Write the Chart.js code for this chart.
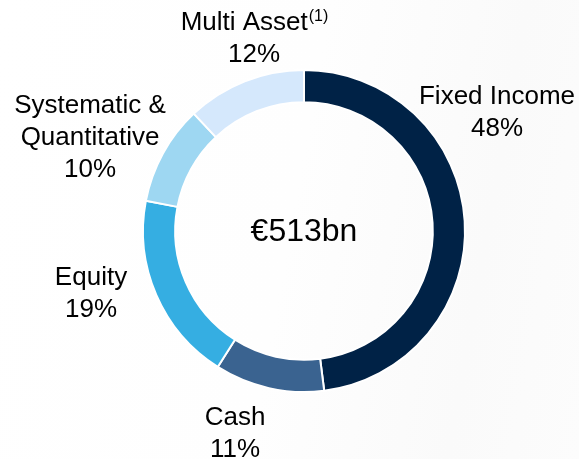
<!DOCTYPE html>
<html lang="en">
<head>
    <meta charset="UTF-8">
    <title>AuM by asset class</title>
    <script src="https://cdn.jsdelivr.net/npm/chart.js"></script>
    <style>
        html, body {
            margin: 0;
            padding: 0;
            background: #fcfcfc;
        }
        #wrap {
            width: 579px;
            height: 459px;
            position: relative;
            background: linear-gradient(100deg, #ffffff 0%, #fefefe 50%, #fafafa 80%, #fcfcfc 100%);
        }
    </style>
</head>
<body>
    <div id="wrap">
        <canvas id="aumChart" width="579" height="459"></canvas>
    </div>

    <script>
        // --- data ---
        const categories = ['Fixed Income', 'Cash', 'Equity', 'Systematic & Quantitative', 'Multi Asset'];
        const shares = [48, 11, 19, 10, 12];          // % of AuM
        const labelLines = [['Fixed Income'], ['Cash'], ['Equity'], ['Systematic &', 'Quantitative'], ['Multi Asset']];
        const footnotes = ['', '', '', '', '(1)'];
        const totalLabel = '€513bn';

        const sliceColors = ['#002246', '#3a6390', '#35aee2', '#9ed7f2', '#d5e8fc'];

        // label placement relative to the doughnut centre (x offset of text centre, y of first baseline)
        const labelSpots = [
            { dx: 193, dy: -127 },
            { dx: -69, dy: 194 },
            { dx: -213, dy: 54 },
            { dx: -214, dy: -118 },
            { dx: -50, dy: -201 }
        ];
        const FONT = '"Liberation Sans", Arial, sans-serif';
        const LINE_H = 32;

        const labelsPlugin = {
            id: 'sliceLabels',
            afterDraw(chart) {
                const ctx = chart.ctx;
                const arc = chart.getDatasetMeta(0).data[0];
                const cx = arc.x, cy = arc.y;
                ctx.save();
                ctx.fillStyle = '#000000';
                ctx.textBaseline = 'alphabetic';

                // centre total
                ctx.font = '32px ' + FONT;
                ctx.textAlign = 'center';
                ctx.fillText(totalLabel, cx, cy + 10);

                categories.forEach((cat, i) => {
                    const spot = labelSpots[i];
                    const x = cx + spot.dx;
                    let y = cy + spot.dy;
                    const lines = labelLines[i].concat([shares[i] + '%']);
                    lines.forEach((line, j) => {
                        ctx.font = '26px ' + FONT;
                        if (j === 0 && footnotes[i]) {
                            // line with a superscript note
                            const mainW = ctx.measureText(line).width;
                            ctx.font = '16px ' + FONT;
                            const noteW = ctx.measureText(footnotes[i]).width;
                            const startX = x - (mainW + noteW) / 2;
                            ctx.textAlign = 'left';
                            ctx.font = '26px ' + FONT;
                            ctx.fillText(line, startX, y);
                            ctx.font = '16px ' + FONT;
                            ctx.fillText(footnotes[i], startX + mainW + 1, y - 9);
                        } else {
                            ctx.textAlign = 'center';
                            ctx.fillText(line, x, y);
                        }
                        y += LINE_H;
                    });
                });
                ctx.restore();
            }
        };

        const ctx = document.getElementById('aumChart').getContext('2d');
        new Chart(ctx, {
            type: 'doughnut',
            data: {
                labels: categories,
                datasets: [{
                    data: shares,
                    backgroundColor: sliceColors,
                    borderColor: '#ffffff',
                    borderWidth: 2,
                    hoverOffset: 0,
                    offset: 0
                }]
            },
            options: {
                responsive: false,
                animation: false,
                radius: 161,
                cutout: 128,
                rotation: 0,
                layout: {
                    padding: { top: 70, bottom: 67, left: 143, right: 114 }
                },
                plugins: {
                    legend: { display: false },
                    tooltip: { enabled: false }
                },
                events: []
            },
            plugins: [labelsPlugin]
        });
    </script>
</body>
</html>
